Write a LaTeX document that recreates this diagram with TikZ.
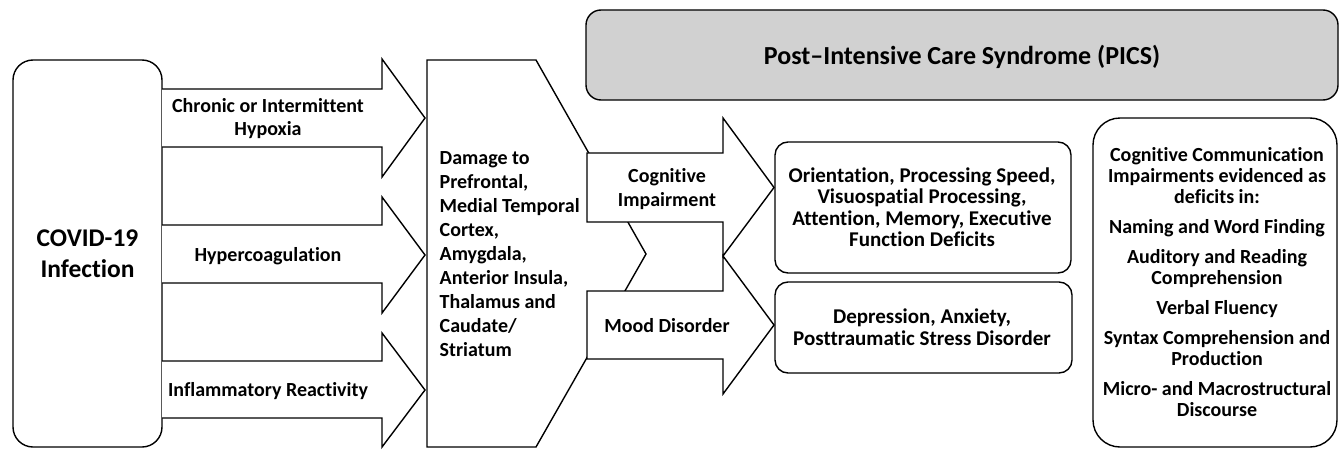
\documentclass[tikz,border=0pt]{standalone}
\usepackage{fontspec}
\setmainfont{Carlito}[Ligatures=NoCommon]
\begin{document}
\begin{tikzpicture}[x=1pt,y=-1pt,
  line width=1.4pt, line join=miter,
  shapeline/.style={draw=black, fill=white},
  rbox/.style={draw=black, fill=white, rounded corners=#1},
  lbl/.style={font=\bfseries\fontsize{20}{23}\selectfont, align=center, inner sep=0pt},
  boxtxt/.style={font=\bfseries\fontsize{21}{21.5}\selectfont, align=center, inner sep=0pt},
  rtxt/.style={font=\bfseries\fontsize{20}{21}\selectfont, align=center, inner sep=0pt},
]
\useasboundingbox (0,0) rectangle (1340,460);

% COVID box
\draw[rbox=20] (13,60) rectangle (162,447);
\node[font=\bfseries\fontsize{25.5}{31}\selectfont, align=center, inner sep=0pt] (covid) at (87.5,254) {COVID-19\\Infection};

% first stage arrows
\filldraw[shapeline] (162,89) -- (382,89) -- (382,59) -- (425,118) -- (382,177) -- (382,147) -- (162,147);
\filldraw[shapeline] (162,225) -- (382,225) -- (382,197) -- (425,255) -- (382,313) -- (382,283) -- (162,283);
\filldraw[shapeline] (162,361) -- (382,361) -- (382,333) -- (425,390) -- (382,447) -- (382,418) -- (162,418);
\node[lbl] (hypox) at (268,119) {Chronic or Intermittent\\Hypoxia};
\node[lbl] (coag) at (268,256) {Hypercoagulation};
\node[lbl] (infl) at (268,391) {Inflammatory Reactivity};

% damage hexagon
\filldraw[shapeline] (427,60) -- (536,60) -- (646,254) -- (536,447) -- (427,447) -- cycle;
\node[font=\bfseries\fontsize{20}{24}\selectfont, align=left, inner sep=0pt, anchor=west] (damage) at (439,254)
  {Damage to\\Prefrontal,\\Medial Temporal\\Cortex,\\Amygdala,\\Anterior Insula,\\Thalamus and\\Caudate/\\Striatum};

% second stage arrows
\filldraw[shapeline] (587,153) -- (723,153) -- (723,118) -- (774,187.5) -- (723,256) -- (723,222) -- (587,222) -- cycle;
\filldraw[shapeline] (587,291) -- (723,291) -- (723,256) -- (774,325) -- (723,394) -- (723,359) -- (587,359) -- cycle;
\node[font=\bfseries\fontsize{20}{24}\selectfont, align=center, inner sep=0pt] (cog) at (667,189) {Cognitive\\Impairment};
\node[font=\bfseries\fontsize{20}{24}\selectfont, align=center, inner sep=0pt] (mood) at (667,326) {Mood Disorder};

% PICS
\draw[draw=black, fill=black!18, rounded corners=15] (586,10) rectangle (1338,100);
\node[font=\bfseries\fontsize{26}{30}\selectfont, inner sep=0pt] (pics) at (962,57) {Post–Intensive Care Syndrome (PICS)};

% outcome boxes
\draw[rbox=13] (775,142) rectangle (1071,273);
\node[boxtxt] (orient) at (922,207) {Orientation, Processing Speed,\\Visuospatial Processing,\\Attention, Memory, Executive\\Function Deficits};
\draw[rbox=13] (775,282) rectangle (1072,373);
\node[boxtxt] (dep) at (922,327) {Depression, Anxiety,\\Posttraumatic Stress Disorder};

% right box
\draw[rbox=27] (1093,118) rectangle (1337,447);
\node[rtxt] (ccomm) at (1217,282.5) {Cognitive Communication\\Impairments evidenced as\\deficits in:\\[9pt]
  Naming and Word Finding\\[9pt]
  Auditory and Reading\\Comprehension\\[9pt]
  Verbal Fluency\\[9pt]
  Syntax Comprehension and\\Production\\[9pt]
  Micro- and Macrostructural\\Discourse};
\end{tikzpicture}
\end{document}
